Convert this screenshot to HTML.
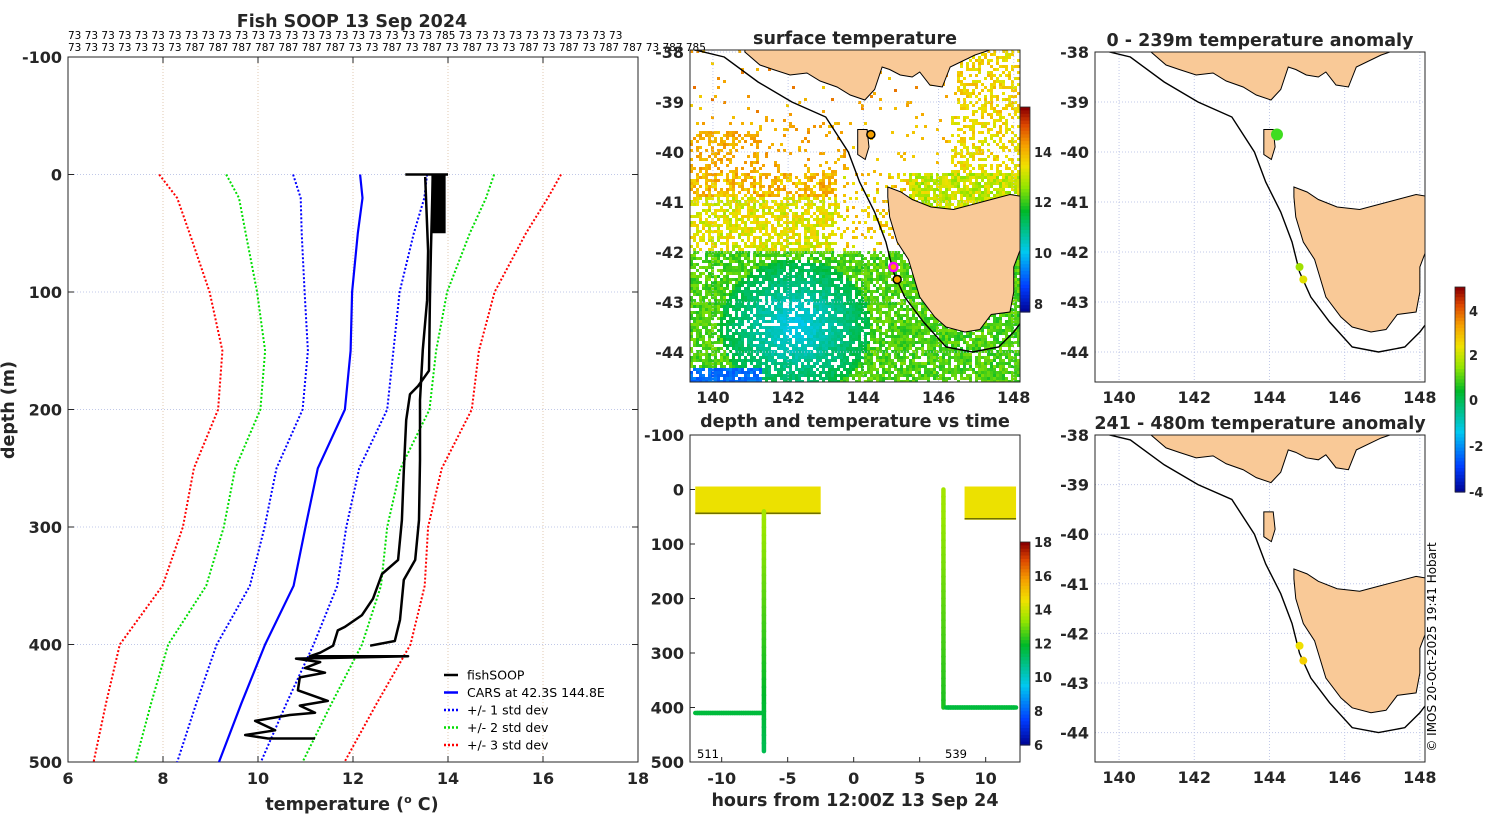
<!DOCTYPE html>
<html><head><meta charset="utf-8"><style>
html,body{margin:0;padding:0;background:#fff}
svg{display:block;font-family:"DejaVu Sans","Liberation Sans",sans-serif}
.t{font-weight:bold;font-size:17.5px;fill:#262626}
.tk{font-weight:bold;font-size:16px;fill:#262626}
</style></head><body>
<svg id="s" width="1500" height="820" viewBox="0 0 1500 820" xmlns="http://www.w3.org/2000/svg"></svg>
<script>
// ---- profile data ----
const carsDepth=[0,20,50,100,150,200,250,300,350,400,450,500];
const carsMean=[12.15,12.2,12.1,11.98,11.95,11.83,11.26,11.0,10.75,10.15,9.65,9.18];
const carsStd=[1.41,1.3,1.18,1.0,0.9,0.89,0.87,0.86,0.92,1.02,0.95,0.88];
const fishADepth=[2,65,107,167,180,187,209,252,294,328,340,361,375,385,388,401,407,410,410,412,415,420,424,428,439,448,452,458,460,465,473,477,480,480];
const fishATemp=[13.68,13.64,13.62,13.6,13.37,13.2,13.12,13.07,13.03,12.95,12.61,12.42,12.19,11.83,11.68,11.58,11.31,11.09,13.16,10.8,11.31,10.99,11.41,10.88,10.84,11.47,10.88,11.2,10.67,9.94,10.36,9.73,10.21,11.2];
const fishBDepth=[2,65,107,149,192,243,294,328,345,379,397,401];
const fishBTemp=[13.52,13.58,13.56,13.47,13.41,13.41,13.39,13.31,13.07,12.99,12.88,12.36];
const fishSurfDepth=[0,0];
const fishSurfTemp=[13.1,14.0];
const xTicks=[6,8,10,12,14,16,18];
const yTicks=[-100,0,100,200,300,400,500];
// ---- time-depth data ----
const tdSegTime=[[-12,-2.5],[-6.8,-6.8],[-12,-7],[6.8,6.8],[8.4,12.3],[7,12.3]];
const tdSegDepth=[[0,40],[40,480],[410,410],[0,400],[0,50],[400,400]];
const tdSegTemp=[[14.8,14.8],[13.8,11.6],[11.9,11.9],[13.8,12.4],[14.8,14.8],[11.9,11.9]];

const S=document.getElementById('s');const NS='http://www.w3.org/2000/svg';
function el(t,a,p){const e=document.createElementNS(NS,t);for(const k in a)e.setAttribute(k,a[k]);(p||S).appendChild(e);return e;}
function tx(x,y,s,c,anchor,extra){const e=el('text',Object.assign({x:x,y:y,class:c,'text-anchor':anchor||'middle'},extra||{}));e.textContent=s;return e;}

// ===== Profile panel =====
const PX0=68,PX1=638,PY0=57,PY1=762;
const px=t=>PX0+(t-6)/12*(PX1-PX0);
const py=d=>PY0+(d+100)/600*(PY1-PY0);
const g1=el('g',{});


el('rect',{x:PX0,y:PY0,width:PX1-PX0,height:PY1-PY0,fill:'#fff',stroke:'#262626','stroke-width':1},g1);
xTicks.forEach(v=>{if(v>6&&v<18)el('line',{x1:px(v),x2:px(v),y1:PY0,y2:PY1,stroke:'#e0c8b0','stroke-dasharray':'1 2'},g1);
 el('line',{x1:px(v),x2:px(v),y1:PY1,y2:PY1-6,stroke:'#262626'},g1);el('line',{x1:px(v),x2:px(v),y1:PY0,y2:PY0+6,stroke:'#262626'},g1);
 const t=tx(px(v),784,String(v),'tk');});
yTicks.forEach(v=>{if(v>-100&&v<500)el('line',{x1:PX0,x2:PX1,y1:py(v),y2:py(v),stroke:'#c0c8e8','stroke-dasharray':'1 2'},g1);
 el('line',{x1:PX0,x2:PX0+6,y1:py(v),y2:py(v),stroke:'#262626'},g1);el('line',{x1:PX1,x2:PX1-6,y1:py(v),y2:py(v),stroke:'#262626'},g1);
 const t=tx(62,py(v)+6,String(v),'tk','end');});
function line(ts,ds,col,w,dash,name){const pts=ts.map((t,i)=>px(t).toFixed(1)+','+py(ds[i]).toFixed(1)).join(' ');
 const e=el('polyline',{points:pts,fill:'none',stroke:col,'stroke-width':w,'stroke-dasharray':dash||'none','stroke-linejoin':'round'},g1);
 }
[[3,'#ff0000','std3'],[2,'#00dd00','std2'],[1,'#0000ff','std1']].forEach(([k,c,n])=>{
 line(carsMean.map((m,i)=>m-k*carsStd[i]),carsDepth,c,2,'2 2','cars-minus-'+n);
 line(carsMean.map((m,i)=>m+k*carsStd[i]),carsDepth,c,2,'2 2','cars-plus-'+n);});
line(carsMean,carsDepth,'#0000ff',2.2,null,'cars-mean-line');
line(fishSurfTemp,fishSurfDepth,'#000',2.5,null,'fishsoop-surface');
el('rect',{x:px(13.65),y:py(0),width:px(13.95)-px(13.65),height:py(50)-py(0),fill:'#000'},g1);
line(fishATemp,fishADepth,'#000',2.5,null,'fishsoop-trace-a');
line(fishBTemp,fishBDepth,'#000',2.5,null,'fishsoop-trace-b');
const leg=[['fishSOOP','#000',null],['CARS at 42.3S 144.8E','#0000ff',null],['+/- 1 std dev','#0000ff','2 2'],['+/- 2 std dev','#00dd00','2 2'],['+/- 3 std dev','#ff0000','2 2']];
leg.forEach((l,i)=>{const y=675+i*17.5;const g=el('g',{},g1);
 el('line',{x1:444,x2:458,y1:y,y2:y,stroke:l[1],'stroke-width':2.5,'stroke-dasharray':l[2]||'none'},g);
 const t=el('text',{x:467,y:y+4.5,'font-size':'12.5','fill':'#000'},g);t.textContent=l[0];});
const tt=tx(352,27,'Fish SOOP 13 Sep 2024','t');
const xl=tx(352,810,'','t');
const s1=el('tspan',{},xl);s1.textContent='temperature (';const s2=el('tspan',{dy:-7,'font-size':11},xl);s2.textContent='o';const s3=el('tspan',{dy:7},xl);s3.textContent=' C)';
const yl=tx(0,0,'depth (m)','t','middle',{transform:'translate(14,410) rotate(-90)'});
const r1='73 73 73 73 73 73 73 73 73 73 73 73 73 73 73 73 73 73 73 73 73 73 785 73 73 73 73 73 73 73 73 73 73';
const r2='73 73 73 73 73 73 73 787 787 787 787 787 787 787 73 73 787 73 787 73 787 73 73 787 73 787 73 787 787 73 787 785';
let a=el('text',{x:68,y:39,'font-size':'10.5',fill:'#000'});a.textContent=r1;
a=el('text',{x:68,y:51,'font-size':'10.5',fill:'#000'});a.textContent=r2;

// ===== colormap =====
const stops=[[0,[0,0,140]],[0.13,[0,60,255]],[0.3,[0,200,240]],[0.5,[0,185,40]],[0.62,[150,230,0]],[0.72,[240,225,0]],[0.82,[245,160,0]],[0.92,[220,70,0]],[1,[140,0,0]]];
function cmap(f){f=Math.max(0,Math.min(1,f));for(let i=1;i<stops.length;i++){if(f<=stops[i][0]){const[a0,c0]=stops[i-1],[a1,c1]=stops[i];const u=(f-a0)/(a1-a0);
 return 'rgb('+c0.map((c,j)=>Math.round(c+(c1[j]-c)*u)).join(',')+')';}}return 'rgb(140,0,0)';}
function cbar(x,y0,y1,name){const g=el('g',{});
 for(let i=0;i<60;i++){el('rect',{x:x,y:y0+(y1-y0)*i/60,width:10,height:(y1-y0)/60+0.6,fill:cmap(1-i/60)},g);}
 el('rect',{x:x,y:y0,width:10,height:y1-y0,fill:'none',stroke:'#262626','stroke-width':0.8},g);return g;}

// ===== maps =====
const tas=[[144.65,-40.7],[145.0,-40.8],[145.3,-40.95],[145.8,-41.1],[146.4,-41.15],[146.9,-41.05],[147.4,-40.95],[147.9,-40.85],[148.3,-40.9],[148.3,-41.4],[148.2,-41.9],[148.0,-42.3],[148.0,-42.8],[147.9,-43.2],[147.4,-43.25],[147.1,-43.55],[146.7,-43.6],[146.2,-43.5],[145.9,-43.3],[145.5,-42.9],[145.3,-42.4],[145.2,-42.15],[144.9,-41.8],[144.7,-41.3],[144.65,-40.9]];
const vic=[[140.85,-37.9],[140.85,-38.0],[141.25,-38.26],[141.6,-38.35],[142.05,-38.46],[142.5,-38.42],[142.85,-38.58],[143.3,-38.7],[143.65,-38.86],[144.04,-38.96],[144.3,-38.75],[144.5,-38.3],[144.7,-38.35],[144.98,-38.46],[145.3,-38.5],[145.5,-38.4],[145.77,-38.66],[146.1,-38.7],[146.31,-38.3],[146.97,-38.06],[147.6,-37.9],[147.6,-37.8],[140.85,-37.8]];
const king=[[143.85,-39.55],[144.1,-39.55],[144.15,-39.9],[144.05,-40.15],[143.85,-40.05]];
const shelf=[[139.2,-37.9],[140.3,-38.1],[141.2,-38.6],[142.1,-39.0],[143.0,-39.3],[143.6,-40.0],[143.9,-40.6],[144.3,-41.2],[144.6,-41.8],[144.8,-42.4],[145.1,-42.9],[145.6,-43.4],[146.2,-43.9],[146.9,-44.0],[147.6,-43.9],[148.0,-43.6],[148.3,-43.3]];
function drawMap(g,X0,Y0,W,H,lon0,lat0,ppx,ppy){
 const P=(lo,la)=>[X0+(lo-lon0)*ppx,Y0+(lat0-la)*ppy];
 const cid='c'+X0+'_'+Y0;const cp=el('clipPath',{id:cid},g);el('rect',{x:X0,y:Y0,width:W,height:H},cp);
 const inner=el('g',{'clip-path':'url(#'+cid+')'},g);
 return {P,inner};}
function finishMap(g,m,X0,Y0,W,H,lbl){
 const {P,inner}=m;
 for(let lo=140;lo<=148;lo+=2){const x=P(lo,0)[0];el('line',{x1:x,x2:x,y1:Y0,y2:Y0+H,stroke:'#c0c8e8','stroke-dasharray':'1 2'},inner);
  const t=tx(x,Y0+H+21,String(lo),'tk');}
 for(let la=-38;la>=-44;la--){const y=P(0,la)[1];el('line',{x1:X0,x2:X0+W,y1:y,y2:y,stroke:'#c0c8e8','stroke-dasharray':'1 2'},inner);
  const t=tx(X0-6,y+6,String(la),'tk','end');}
 [tas,vic,king].forEach((poly,i)=>{const e=el('polygon',{points:poly.map(p=>P(p[0],p[1]).join(',')).join(' '),fill:'#f9c997',stroke:'#000','stroke-width':1},inner);
  });
 const sh=el('polyline',{points:shelf.map(p=>P(p[0],p[1]).join(',')).join(' '),fill:'none',stroke:'#000','stroke-width':1.4},inner);
 
 el('rect',{x:X0,y:Y0,width:W,height:H,fill:'none',stroke:'#262626'},g);
 const t=tx(X0+W/2,Y0-6,lbl,'t');}

function hash(i,j){let h=(i*374761393+j*668265263)|0;h=(h^(h>>>13))*1274126177|0;return ((h^(h>>>16))>>>0)/4294967296;}
const gm=el('g',{});
const m1=drawMap(gm,690,50,330,332,139.39,-37.96,37.6,50);
const cells=el('g',{},m1.inner);
const CS=3;
for(let i=0;i<110;i++)for(let j=0;j<111;j++){
 const lon=139.39+(i*CS+1.5)/37.6,lat=-37.96-(j*CS+1.5)/50;const r=hash(i,j),r2=hash(j+7,i+3);
 let T=null;
 if(lat>-39.3){ if(lon>146.5&&r<0.5)T=13.3+r2*0.8; else if(r<0.04)T=13.8+r2;}
 else if(lat>-40.4){ if(lon>146.3&&r<0.45)T=13.2+r2*0.8; else if(lon<141.2&&lat<-39.6&&r<0.4)T=13.9+r2*0.6; else if(lon<143.5&&r<0.12)T=13.9+r2*0.6; else if(r<0.05)T=13.7+r2*0.6;}
 else if(lat>-42.0){ if(lon<143.3){ if(r<0.65)T=(lat>-40.9?13.5:12.9)+r2*1.0;}
  else if(lon<145.2){ if(r<0.22)T=13.2+r2*1.1;} else { if(r<0.85)T=12.6+r2*1.1;} }
 else { if(r<0.8){ const dc=Math.hypot((lon-142.2)/2.0,(lat+43.5)/1.35); T=dc<1?9.9+dc*1.5+r2*0.4:11.9+r2*0.7; if(lat<-44.3&&lon<141.3)T=9.0+r2*0.5;}}
 if(T!==null)el('rect',{x:690+i*CS,y:50+j*CS,width:CS,height:CS,fill:cmap((T-7.7)/8.1)},cells);}
finishMap(gm,m1,690,50,330,332,'surface temperature');
[[144.2,-39.65,'#f5a000','#000',1.5],[144.8,-42.3,'#f5a000','#ff00ff',2.5],[144.9,-42.55,'#f5a000','#000',1.5]].forEach(d=>{const p=m1.P(d[0],d[1]);
 const c=el('circle',{cx:p[0],cy:p[1],r:4,fill:d[2],stroke:d[3],'stroke-width':d[4]},gm);});
cbar(1020,107,312,'sst-colorbar');
[[14,152],[12,202],[10,253],[8,304]].forEach(v=>{const t=tx(1034,v[1]+5,String(v[0]),'tk','start',{style:'font-size:13px'});});

function anomMap(Y0,H,ppy,dots,lbl,name){const g=el('g',{});
 const m=drawMap(g,1095,Y0,330,H,139.36,-38,37.6,ppy);finishMap(g,m,1095,Y0,330,H,lbl);
 dots.forEach(d=>{const p=m.P(d[0],d[1]);const c=el('circle',{cx:p[0],cy:p[1],r:d[3],fill:d[2]},g);});}
anomMap(52,330,50,[[144.2,-39.65,'#40dd20',6],[144.8,-42.3,'#a0e000',4],[144.9,-42.55,'#e0e000',4]],'0 - 239m temperature anomaly','anomaly-map-shallow');
anomMap(435,327,49.6,[[144.8,-42.25,'#f0e000',4],[144.9,-42.55,'#f5d000',4]],'241 - 480m temperature anomaly','anomaly-map-deep');
cbar(1455,287,492,'anomaly-colorbar');
[[4,311],[2,355],[0,400],[-2,446],[-4,492]].forEach(v=>{const t=tx(1469,v[1]+5,String(v[0]),'tk','start',{style:'font-size:13px'});});
const cr=tx(0,0,'© IMOS 20-Oct-2025 19:41 Hobart','', 'middle',{transform:'translate(1436,647) rotate(-90)','font-size':'12','fill':'#000'});


// ===== time-depth panel =====
const TX0=690,TX1=1020,TY0=435,TY1=762;
const tpx=h=>TX0+(h+12.4)/25*(TX1-TX0);
const tpy=d=>TY0+(d+100)/600*(TY1-TY0);
const tcol=T=>cmap((T-6)/12.3);
const gt=el('g',{});
el('rect',{x:TX0,y:TY0,width:TX1-TX0,height:TY1-TY0,fill:'#fff'},gt);
tdSegTime.forEach((seg,k)=>{const dd=tdSegDepth[k],tt=tdSegTemp[k];
 const wide=(seg[1]-seg[0])>1&&(dd[1]-dd[0])>20;
 if(wide){const r=el('rect',{x:tpx(seg[0]),y:tpy(dd[0])-3,width:tpx(seg[1])-tpx(seg[0]),height:tpy(dd[1])-tpy(dd[0])+6,fill:tcol(tt[0])},gt);
  
  el('line',{x1:tpx(seg[0]),x2:tpx(seg[1]),y1:tpy(dd[1])+2,y2:tpy(dd[1])+2,stroke:'#707000','stroke-width':1.5},gt);}
 else{const n=30;for(let i=0;i<n;i++){const u0=i/n,u1=(i+1)/n;
  const s=el('line',{x1:tpx(seg[0]+(seg[1]-seg[0])*u0),x2:tpx(seg[0]+(seg[1]-seg[0])*u1),y1:tpy(dd[0]+(dd[1]-dd[0])*u0),y2:tpy(dd[0]+(dd[1]-dd[0])*u1),stroke:tcol(tt[0]+(tt[1]-tt[0])*u0),'stroke-width':4.5,'stroke-linecap':'round'},gt);
  }}});
el('rect',{x:TX0,y:TY0,width:TX1-TX0,height:TY1-TY0,fill:'none',stroke:'#262626'},gt);
[-10,-5,0,5,10].forEach(v=>{el('line',{x1:tpx(v),x2:tpx(v),y1:TY1,y2:TY1-5,stroke:'#262626'},gt);const t=tx(tpx(v),784,String(v),'tk');});
yTicks.forEach(v=>{el('line',{x1:TX0,x2:TX0+5,y1:tpy(v),y2:tpy(v),stroke:'#262626'},gt);const t=tx(684,tpy(v)+6,String(v),'tk','end');});
let q=el('text',{x:697,y:758,'font-size':'11.5',fill:'#000'});q.textContent='511';
q=el('text',{x:945,y:758,'font-size':'11.5',fill:'#000'});q.textContent='539';
const tt2=tx(855,427,'depth and temperature vs time','t');
const tt3=tx(855,806,'hours from 12:00Z 13 Sep 24','t');
cbar(1020,542,745,'depth-time-colorbar');
[18,16,14,12,10,8,6].forEach((v,i)=>{const t=tx(1034,542+i*33.8+5,String(v),'tk','start',{style:'font-size:13px'});});
</script>
</body></html>
